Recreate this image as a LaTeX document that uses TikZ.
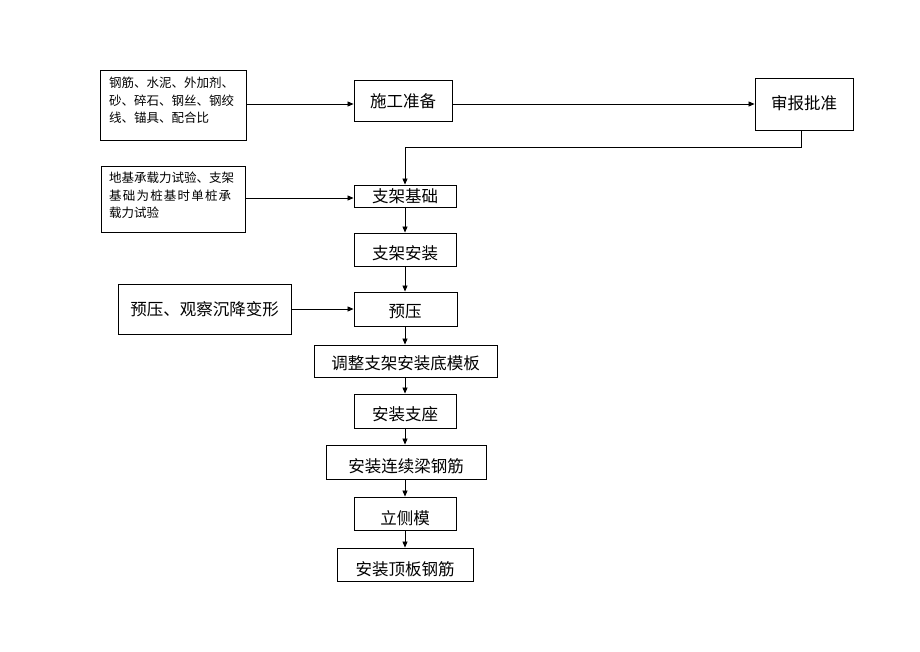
\documentclass[tikz,border=0pt]{standalone}
\usepackage{fontspec}
\setmainfont{Noto Sans CJK SC}
\usetikzlibrary{arrows.meta}
\begin{document}
\begin{tikzpicture}[x=1pt,y=-1pt,
  box/.style={draw=black,line width=0.9pt,inner sep=0pt},
  side/.style={draw=black,line width=0.9pt,inner sep=0pt},
  big/.style={inner sep=0pt,font=\fontsize{16.5}{18}\selectfont},
  small/.style={anchor=north west,inner sep=0pt,font=\fontsize{12.5}{17.5}\selectfont,align=left},
  arr/.style={line width=0.8pt,-{Triangle[length=6pt,width=5pt]}},
  ln/.style={line width=0.8pt}]
\useasboundingbox (0,0) rectangle (920,651);
\fill[white] (0,0) rectangle (920,651);
% helper: box by corners
\newcommand{\bx}[6]{\node[#1,minimum width=#4-#2,minimum height=#5-#3] (#6) at ({(#2+#4)/2},{(#3+#5)/2}) {};}
% left material box
\bx{side}{100}{70}{246}{140}{m1}
\node[small] (m1t) at (109,77) {钢筋、水泥、外加剂、\\砂、碎石、钢丝、钢绞\\线、锚具、配合比};
% left test box
\bx{side}{101}{166}{245}{232}{m2}
\node[small] (m2t) at (109,172) {地基承载力试验、支架\\\makebox[126pt][l]{基\hfill 础\hfill 为\hfill 桩\hfill 基\hfill 时\hfill 单\hfill 桩\hfill 承\hspace{4pt}}\\载力试验};
% left preload box
\bx{side}{118}{284}{291}{334}{m3}
\node[big] (m3t) at (204.5,309) {预压、观察沉降变形};
% main boxes
\bx{box}{354}{80}{452}{121}{b1}\node[big] at (403,101) {施工准备};
\bx{box}{755}{78}{853}{130}{b2}\node[big] at (804,103) {审报批准};
\bx{box}{354}{185}{456}{207}{b3}\node[big] at (405,196) {支架基础};
\bx{box}{354}{233}{456}{266}{b4}\node[big] at (405,253) {支架安装};
\bx{box}{354}{292}{457}{326}{b5}\node[big] at (405,312) {预压};
\bx{box}{314}{345}{497}{377}{b6}\node[big] at (405.5,363) {调整支架安装底模板};
\bx{box}{354}{394}{456}{428}{b7}\node[big] at (405,414) {安装支座};
\bx{box}{326}{445}{486}{479}{b8}\node[big] at (406,466) {安装连续梁钢筋};
\bx{box}{354}{497}{456}{530}{b9}\node[big] at (405,518) {立侧模};
\bx{box}{337}{548}{473}{581}{b10}\node[big] at (405,569) {安装顶板钢筋};
% connectors
\draw[arr] (m1.east |- 0,104) -- (b1.west |- 0,104);
\draw[arr] (b1.east |- 0,104) -- (b2.west |- 0,104);
\coordinate (c1) at (801,147);
\coordinate (c2) at (405,147);
\draw[arr] (b2.south -| c1) -- (c1) -- (c2) -- (b3.north -| c2);
\draw[arr] (m2.east |- 0,198) -- (b3.west |- 0,198);
\draw[arr] (b3.south -| c2) -- (b4.north -| c2);
\draw[arr] (b4.south -| c2) -- (b5.north -| c2);
\draw[arr] (m3.east |- 0,309) -- (b5.west |- 0,309);
\draw[arr] (b5.south -| c2) -- (b6.north -| c2);
\draw[arr] (b6.south -| c2) -- (b7.north -| c2);
\draw[arr] (b7.south -| c2) -- (b8.north -| c2);
\draw[arr] (b8.south -| c2) -- (b9.north -| c2);
\draw[arr] (b9.south -| c2) -- (b10.north -| c2);
\end{tikzpicture}
\end{document}
